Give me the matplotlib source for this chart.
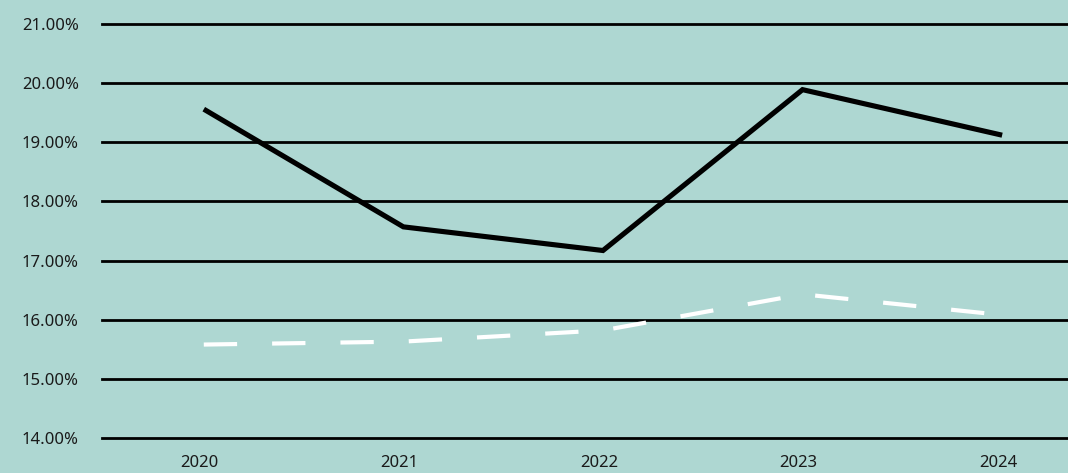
import matplotlib
matplotlib.use("Agg")
import matplotlib.pyplot as plt
import numpy as np

# values
years = ["2020", "2021", "2022", "2023", "2024"]
black_series = [19.56, 17.57, 17.17, 19.89, 19.12]
white_series = [15.58, 15.63, 15.82, 16.43, 16.08]
y_ticks = [14, 15, 16, 17, 18, 19, 20, 21]

bg = "#aed7d2"
text_col = "#1a1a1a"

plt.rcParams['font.family'] = ['Noto Sans', 'DejaVu Sans']

fig = plt.figure(figsize=(10.68, 4.73), dpi=100)
fig.patch.set_facecolor(bg)
ax = fig.add_axes([102 / 1068, 35 / 473, 1 - 102 / 1068, 414 / 473])
ax.set_facecolor(bg)

x = np.arange(len(years))

# horizontal gridlines
for t in y_ticks:
    ax.axhline(t, color="black", linewidth=2.0, zorder=1, clip_on=False)

ax.plot(x + 0.02, black_series, color="black", linewidth=3.7, zorder=3,
        solid_capstyle="butt", solid_joinstyle="miter")
ax.plot(x + 0.02, white_series, color="white", linewidth=3.0, zorder=3,
        linestyle=(0, (8, 8.4)), dash_capstyle="butt")

ax.set_xlim(-0.49, 4.35)
ax.set_ylim(14, 21)
ax.set_xticks(x)
ax.set_xticklabels(years)
ax.set_yticks(y_ticks)
ax.set_yticklabels([f"{t:.2f}%" for t in y_ticks])

for s in ax.spines.values():
    s.set_visible(False)

ax.tick_params(axis="y", length=0, pad=57.6, labelsize=12, labelcolor=text_col)
ax.tick_params(axis="x", length=0, pad=12, labelsize=12, labelcolor=text_col)
for lab in ax.get_yticklabels():
    lab.set_horizontalalignment("left")

fig.savefig("out.png", dpi=100, facecolor=bg)
